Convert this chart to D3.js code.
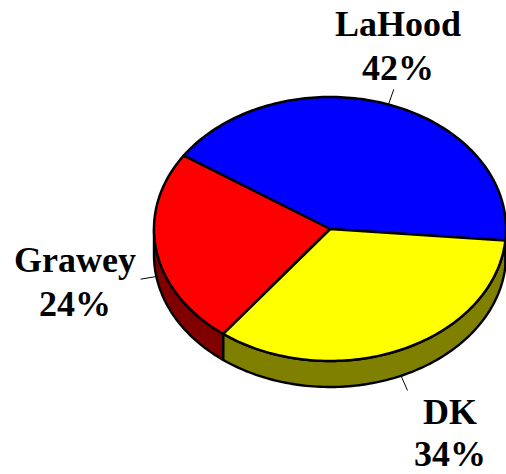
<!DOCTYPE html>
<html>
<head>
<meta charset="utf-8">
<script src="https://cdn.jsdelivr.net/npm/d3@7"></script>
<style>
  body { margin: 0; background: #fff; }
  svg { display: block; }
  .label { font-family: "Liberation Serif", "Times New Roman", serif; font-weight: bold; font-size: 36px; fill: #000; }
</style>
</head>
<body>
<svg width="506" height="474"></svg>
<script>
// Data
const categories = ["LaHood", "DK", "Grawey"];
const values = [42, 34, 24];
const percentLabels = ["42%", "34%", "24%"];
const topColors = ["#0000ff", "#ffff00", "#ff0000"];
const sideColors = ["#00007f", "#808000", "#800000"];

// Layout of the tilted pie
const cx = 330, cy = 229;   // centre of the top face
const rx = 176, ry = 132;   // ellipse radii
const depth = 26;           // thickness of the pie
const startDeg = -56.2;     // first slice starts here (clockwise from 12 o'clock)

// label placement (text centre x, first baseline y, line gap)
const labelPos = [
  { x: 398, y: 36, gap: 44, edge: "top" },
  { x: 450, y: 424, gap: 42, edge: "bottom" },
  { x: 75, y: 272, gap: 44, edge: "bottom" }
];

const svg = d3.select("svg");

// unit circle -> screen
const sx = d3.scaleLinear().domain([-1, 1]).range([cx - rx, cx + rx]);
const sy = d3.scaleLinear().domain([-1, 1]).range([cy - ry, cy + ry]);
const px = a => sx(Math.sin(a));
const py = a => sy(-Math.cos(a));

const pie = d3.pie().sort(null).value(d => d)
  .startAngle(startDeg * Math.PI / 180)
  .endAngle(startDeg * Math.PI / 180 + 2 * Math.PI);
const arcs = pie(values);

function arcPoints(a0, a1, dy) {
  const n = Math.max(2, Math.ceil(Math.abs(a1 - a0) / 0.02));
  return d3.range(n + 1).map(i => {
    const a = a0 + (a1 - a0) * i / n;
    return [px(a), py(a) + dy];
  });
}

const line = d3.line();

// Side walls (visible front half only)
const sides = svg.append("g");
arcs.forEach((d, i) => {
  const ranges = [];
  [-2 * Math.PI, 0, 2 * Math.PI].forEach(off => {
    const s = Math.max(d.startAngle + off, Math.PI / 2), e = Math.min(d.endAngle + off, 3 * Math.PI / 2);
    if (e > s) ranges.push([s, e]);
  });
  ranges.forEach(([s, e]) => {
    const pts = arcPoints(s, e, 0).concat(arcPoints(e, s, depth));
    sides.append("path")
      .attr("d", line(pts) + "Z")
      .attr("fill", sideColors[i])
      .attr("stroke", "#000")
      .attr("stroke-width", 2.4)
      .attr("stroke-linejoin", "round");
  });
});

// Top faces
const tops = svg.append("g");
arcs.forEach((d, i) => {
  const pts = [[cx, cy]].concat(arcPoints(d.startAngle, d.endAngle, 0));
  tops.append("path")
    .attr("d", line(pts) + "Z")
    .attr("fill", topColors[i])
    .attr("stroke", "#000")
    .attr("stroke-width", 2.5)
    .attr("stroke-linejoin", "round");
});

// Leader lines and labels
const labels = svg.append("g");
arcs.forEach((d, i) => {
  const mid = (d.startAngle + d.endAngle) / 2;
  const p = labelPos[i];
  const x0 = px(mid), y0 = py(mid) + (p.edge === "bottom" ? depth : 0);
  const len = 16;
  const x1 = x0 + Math.sin(mid) * len, y1 = y0 - Math.cos(mid) * len;
  labels.append("line")
    .attr("x1", x0).attr("y1", y0).attr("x2", x1).attr("y2", y1)
    .attr("stroke", "#000").attr("stroke-width", 1);

  const t = labels.append("text")
    .attr("class", "label")
    .attr("text-anchor", "middle")
    .attr("x", p.x).attr("y", p.y);
  t.append("tspan").attr("x", p.x).text(categories[i]);
  t.append("tspan").attr("x", p.x).attr("dy", p.gap).text(percentLabels[i]);
});
</script>
</body>
</html>
